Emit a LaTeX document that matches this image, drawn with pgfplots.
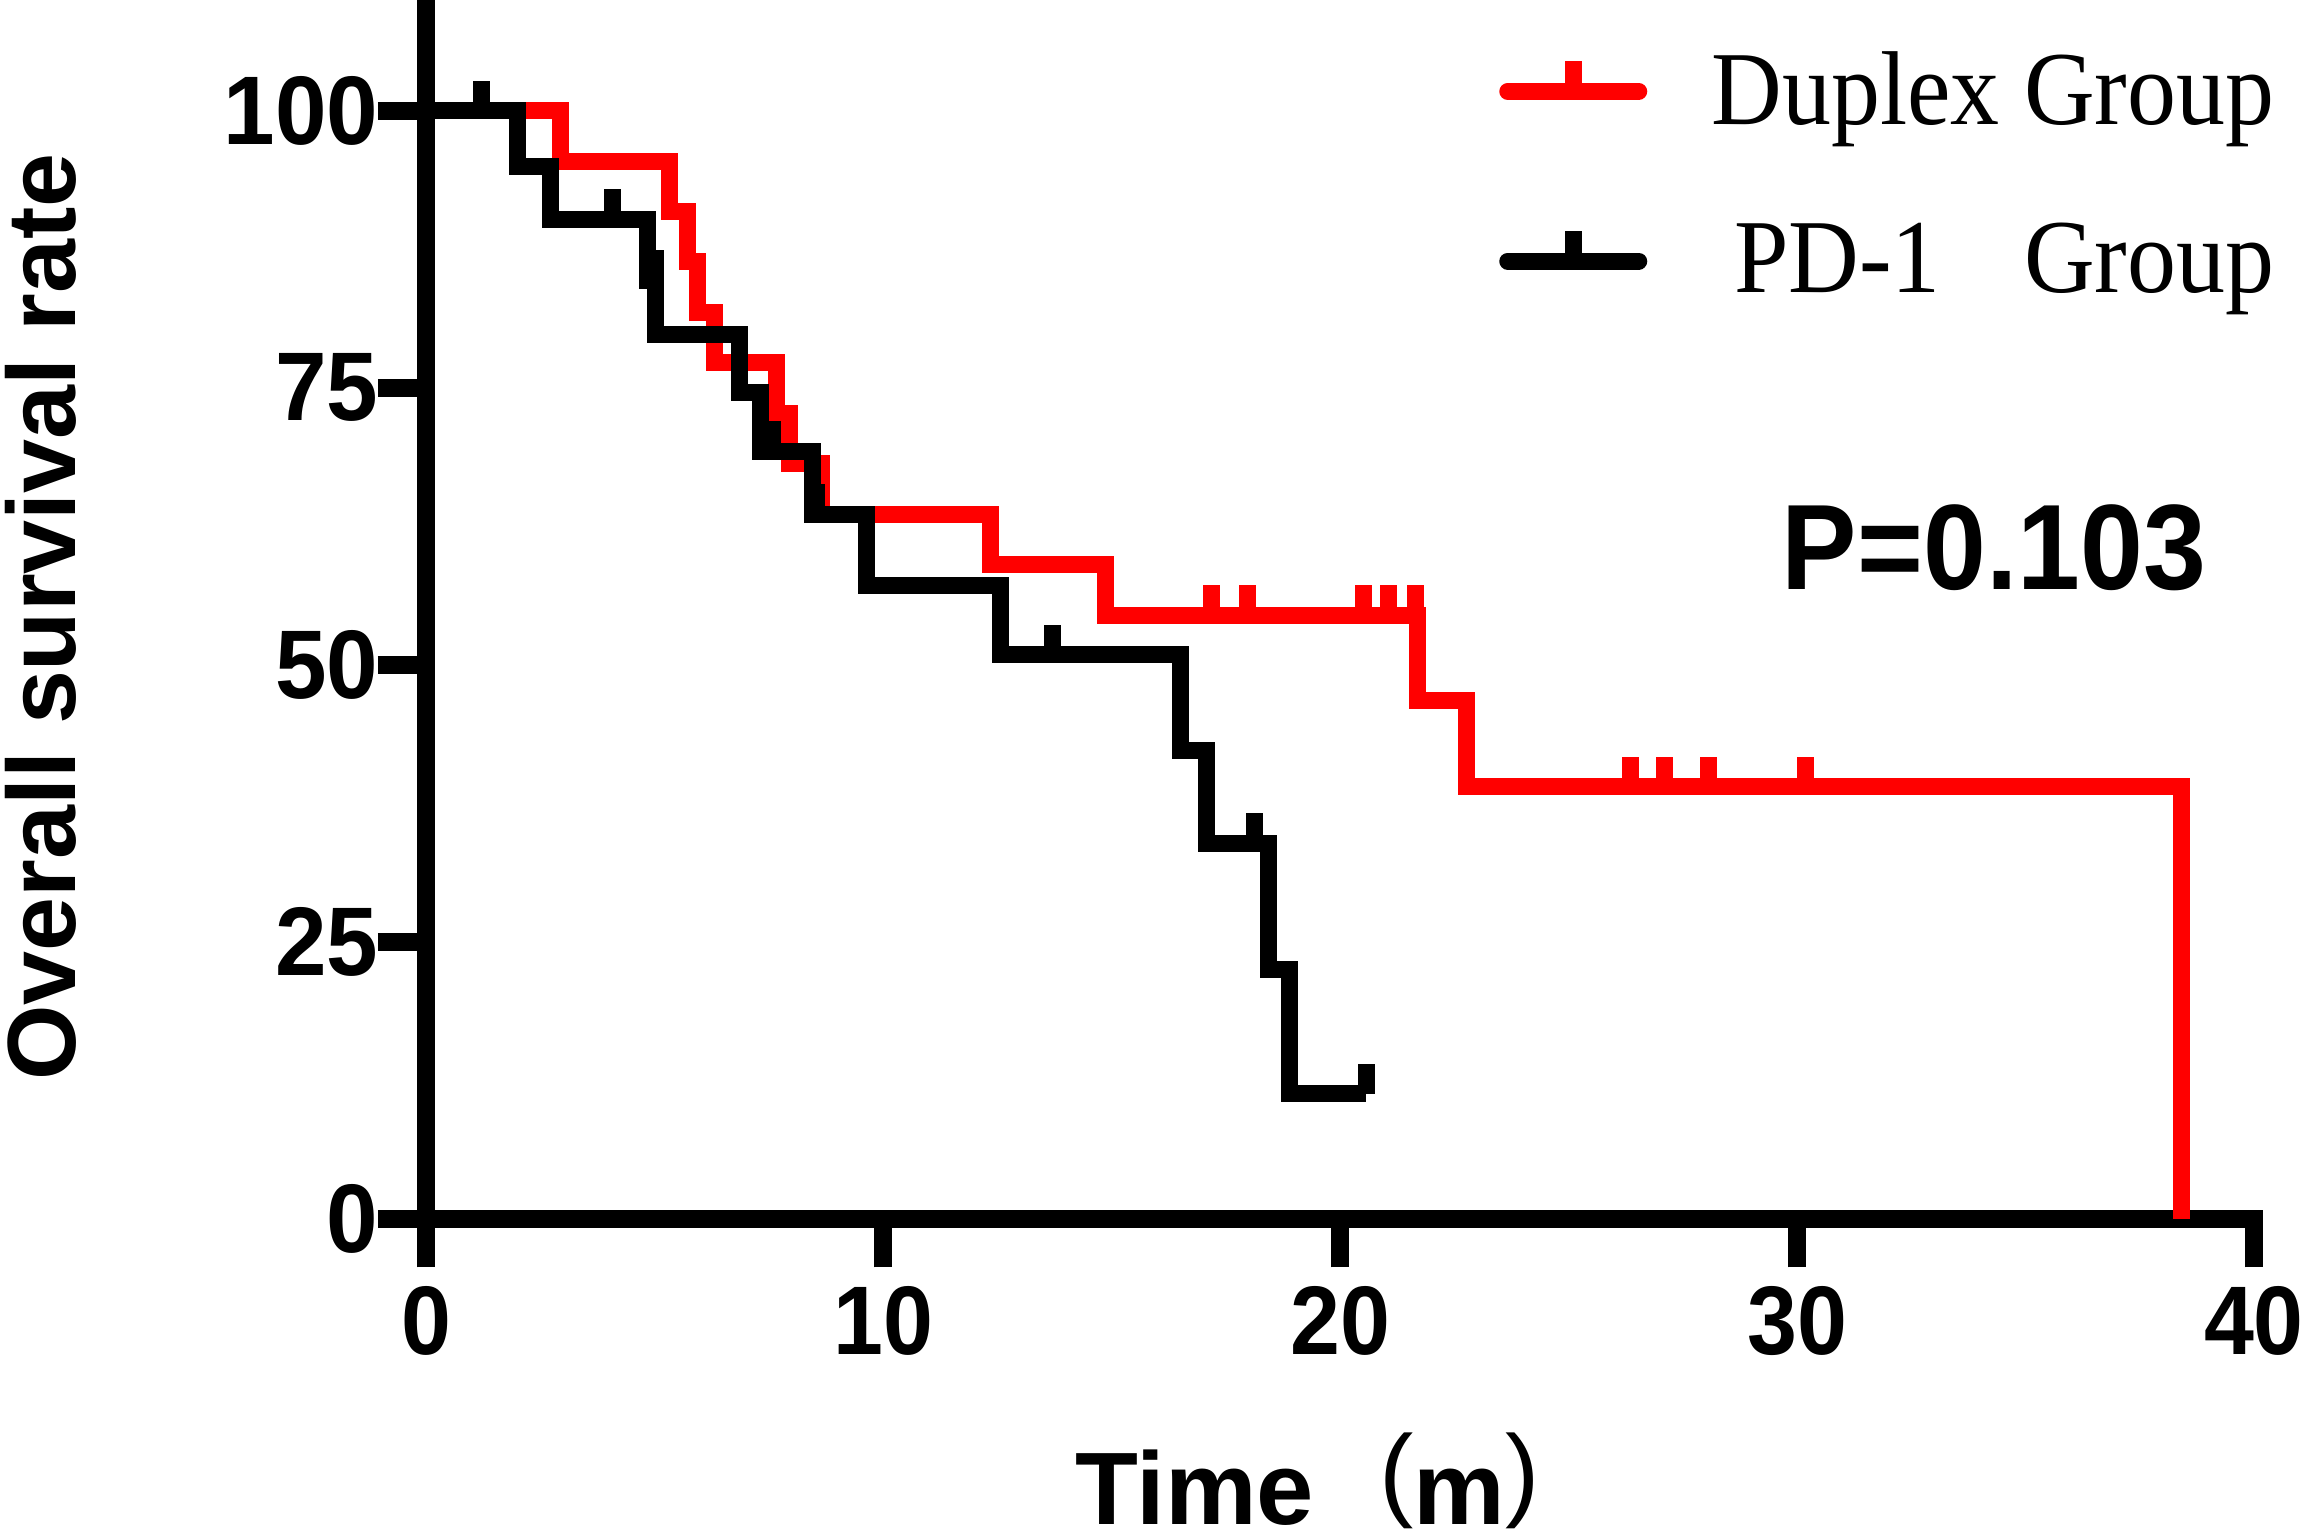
\documentclass[border=0pt]{standalone}
\usepackage{fontspec}
\setmainfont{Liberation Sans}
\newfontfamily\serif{Liberation Serif}
\usepackage{graphicx}
\usepackage{pgfplots}
\pgfplotsset{compat=1.18}
\definecolor{kmred}{RGB}{255,0,0}
\pgfdeclareplotmark{censor}{\pgfpathmoveto{\pgfqpoint{0pt}{0pt}}\pgfpathlineto{\pgfqpoint{0pt}{6pt}}\pgfusepathqstroke}
\begin{document}
\begin{tikzpicture}
\path[use as bounding box] (-85.3pt,-64pt) rectangle (375.3pt,243.8pt);
\begin{axis}[
  scale only axis, width=365.5pt, height=243.8pt,
  xmin=0, xmax=40, ymin=0, ymax=110, clip=false,
  axis lines=left,
  axis line style={-, line width=3.6pt, line cap=rect},
  xtick={0,10,20,30,40}, ytick={0,25,50,75,100},
  tick align=outside, major tick length=9.7pt,
  tick style={line width=3.6pt, black},
  /pgf/number format/assume math mode=true,
  xticklabel={\scalebox{0.92}[1]{\pgfmathprintnumber{\tick}}},
  yticklabel={\scalebox{0.95}[1]{\pgfmathprintnumber{\tick}}},
  xticklabel style={font=\fontsize{19.5}{20}\selectfont\bfseries, inner sep=0pt, yshift=-3.6pt},
  yticklabel style={font=\fontsize{19.5}{20}\selectfont\bfseries, inner sep=0pt, xshift=0.3pt},
  legend style={draw=none, fill=none, at={(0.587,0.958)}, anchor=north west,
    font=\serif\fontsize{21}{21}\selectfont, inner sep=0pt, outer sep=0pt,
    nodes={inner sep=0pt}, column sep=12.9pt, row sep=18.2pt},
  legend cell align=left,
  legend image code/.code={
    \draw[#1, line cap=round, line width=3.4pt] (0pt,0pt) -- (26.2pt,0pt);
    \draw[#1, line cap=butt, line width=3.4pt] (13.1pt,0pt) -- (13.1pt,6pt);
  },
]
% Duplex group (red)
\addplot[kmred, line width=3.4pt, const plot, line join=miter] coordinates {
  (0,100) (2.93,95.45) (5.32,90.9) (5.71,86.4) (5.93,81.8) (6.31,77.3)
  (7.65,72.7) (7.94,68.2) (8.64,63.6) (12.35,59.1) (14.87,54.5)
  (21.7,46.8) (22.76,39.0) (38.42,0)
};
\addlegendentry{\scalebox{0.932}[1]{Duplex Group}}
\addplot[forget plot, only marks, kmred, mark=censor, mark options={line width=3.4pt, line cap=butt}] coordinates {
  (17.18,54.5) (17.98,54.5) (20.5,54.5) (21.05,54.5) (21.65,54.5)
  (26.36,39.0) (27.1,39.0) (28.06,39.0) (30.18,39.0)
};
% PD-1 group (black)
\addplot[black, line width=3.4pt, const plot, line join=miter] coordinates {
  (0,100) (2.0,95.0) (2.71,90.2) (4.83,84.7) (5.01,79.8) (6.85,74.6)
  (7.32,69.3) (8.45,63.6) (9.64,57.2) (12.57,50.9) (16.5,42.3)
  (17.07,33.9) (18.42,22.5) (18.9,11.3) (20.57,11.3)
};
\addlegendentry{\scalebox{0.932}[1]{\makebox[3.194em][l]{\hspace{0.23em}PD-1}Group}}
\addplot[forget plot, only marks, black, mark=censor, mark options={line width=3.4pt, line cap=butt}] coordinates {
  (1.21,100) (4.08,90.2) (5.01,84.7) (7.57,69.3) (8.53,63.6)
  (13.7,50.9) (18.13,33.9) (20.57,11.3)
};
\end{axis}
\node[rotate=90, anchor=base, font=\fontsize{19.4}{20}\selectfont\bfseries] at (-70.1pt,120.4pt) {Overall survival rate};
\node[anchor=base, font=\fontsize{20.6}{21}\selectfont] at (176.2pt,-61pt) {\textbf{Time}\hspace{13pt}\raisebox{3.4pt}{(}\textbf{m}\raisebox{3.4pt}{)}};
\node[anchor=base, font=\fontsize{24.3}{25}\selectfont\bfseries] at (313.5pt,125.8pt) {\scalebox{0.93}[1]{P=0.103}};
\end{tikzpicture}
\end{document}
